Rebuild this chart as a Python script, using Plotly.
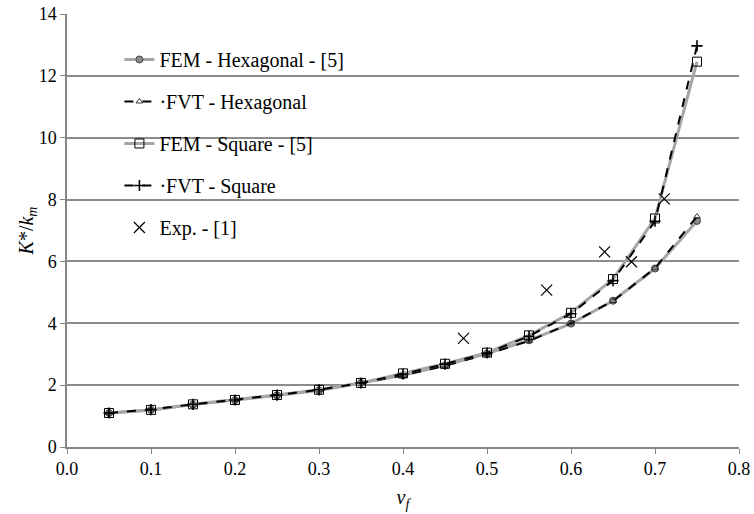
import plotly.graph_objects as go

vf = [0.05, 0.10, 0.15, 0.20, 0.25, 0.30, 0.35, 0.40, 0.45, 0.50, 0.55, 0.60, 0.65, 0.70, 0.75]
fem_hex = [1.10, 1.20, 1.37, 1.51, 1.67, 1.83, 2.07, 2.32, 2.64, 3.02, 3.45, 3.99, 4.73, 5.77, 7.31]
fvt_hex = [1.10, 1.21, 1.37, 1.52, 1.67, 1.84, 2.07, 2.31, 2.63, 3.00, 3.43, 4.00, 4.72, 5.78, 7.45]
fem_sq = [1.10, 1.20, 1.38, 1.52, 1.68, 1.85, 2.07, 2.38, 2.69, 3.05, 3.61, 4.34, 5.43, 7.39, 12.46]
fvt_sq = [1.10, 1.21, 1.38, 1.52, 1.68, 1.85, 2.07, 2.36, 2.68, 3.04, 3.58, 4.31, 5.38, 7.30, 12.97]
exp_vf = [0.472, 0.571, 0.640, 0.672, 0.711]
exp_k = [3.51, 5.07, 6.31, 5.99, 8.02]

names = ["FEM - Hexagonal - [5]", "\u00b7FVT - Hexagonal", "FEM - Square - [5]", "\u00b7FVT - Square", "Exp. - [1]"]

FONT = "Times New Roman, Liberation Serif, DejaVu Serif, serif"

fig = go.Figure()
fig.add_trace(go.Scatter(
    x=vf, y=fem_hex, name=names[0], mode="lines+markers", legendgroup="a",
    line=dict(color="#a6a6a6", width=3),
    marker=dict(symbol="circle", size=7, color="#8c8c8c", line=dict(color="#404040", width=1))))
fig.add_trace(go.Scatter(
    x=vf, y=fvt_hex, name=names[1], mode="lines+markers", legendgroup="b",
    line=dict(color="black", width=2, dash="dash"),
    marker=dict(symbol="triangle-up-open", size=6, color="#333333", line=dict(width=1))))
fig.add_trace(go.Scatter(
    x=vf, y=fem_sq, name=names[2], mode="lines+markers", legendgroup="c",
    line=dict(color="#a6a6a6", width=3),
    marker=dict(symbol="square-open", size=9, color="black", line=dict(width=1))))
fig.add_trace(go.Scatter(
    x=vf, y=fvt_sq, name=names[3], mode="lines+markers", legendgroup="d",
    line=dict(color="black", width=2, dash="dash"),
    marker=dict(symbol="cross-thin-open", size=8, color="black", line=dict(width=1.6, color="black"))))
fig.add_trace(go.Scatter(
    x=exp_vf, y=exp_k, name=names[4], mode="markers", legendgroup="e",
    marker=dict(symbol="x-thin-open", size=11, color="black", line=dict(width=1.2, color="black"))))

fig.update_layout(
    width=754, height=514,
    margin=dict(l=67, r=15, t=14, b=67),
    paper_bgcolor="white", plot_bgcolor="white",
    font=dict(family=FONT, size=17, color="black"),
    showlegend=True,
    legend=dict(x=0.078, y=0.94, xanchor="left", yanchor="top",
                bgcolor="rgba(0,0,0,0)", font=dict(family=FONT, size=20, color="black"),
                traceorder="grouped", tracegroupgap=13, itemwidth=30),
    xaxis=dict(range=[0, 0.8], tickvals=[0, 0.1, 0.2, 0.3, 0.4, 0.5, 0.6, 0.7, 0.8],
               tickformat=".1f", showgrid=False, zeroline=False, automargin=False,
               showline=True, linecolor="#868686", linewidth=1.5,
               ticks="outside", tickcolor="#868686", ticklen=5,
               tickfont=dict(family=FONT, size=18, color="black"),
               title=dict(text="<i>v<sub>f</sub></i>", font=dict(family=FONT, size=20), standoff=12)),
    yaxis=dict(range=[0, 14], tickvals=[0, 2, 4, 6, 8, 10, 12, 14],
               showgrid=True, gridcolor="#8c8c8c", gridwidth=1.5, zeroline=False, automargin=False,
               showline=True, linecolor="#868686", linewidth=1.5,
               ticks="outside", tickcolor="#868686", ticklen=5,
               tickfont=dict(family=FONT, size=18, color="black"),
               title=dict(text="<i>K</i>*/<i>k<sub>m</sub></i>", font=dict(family=FONT, size=20), standoff=0)),
)

fig.write_html("out.html")
